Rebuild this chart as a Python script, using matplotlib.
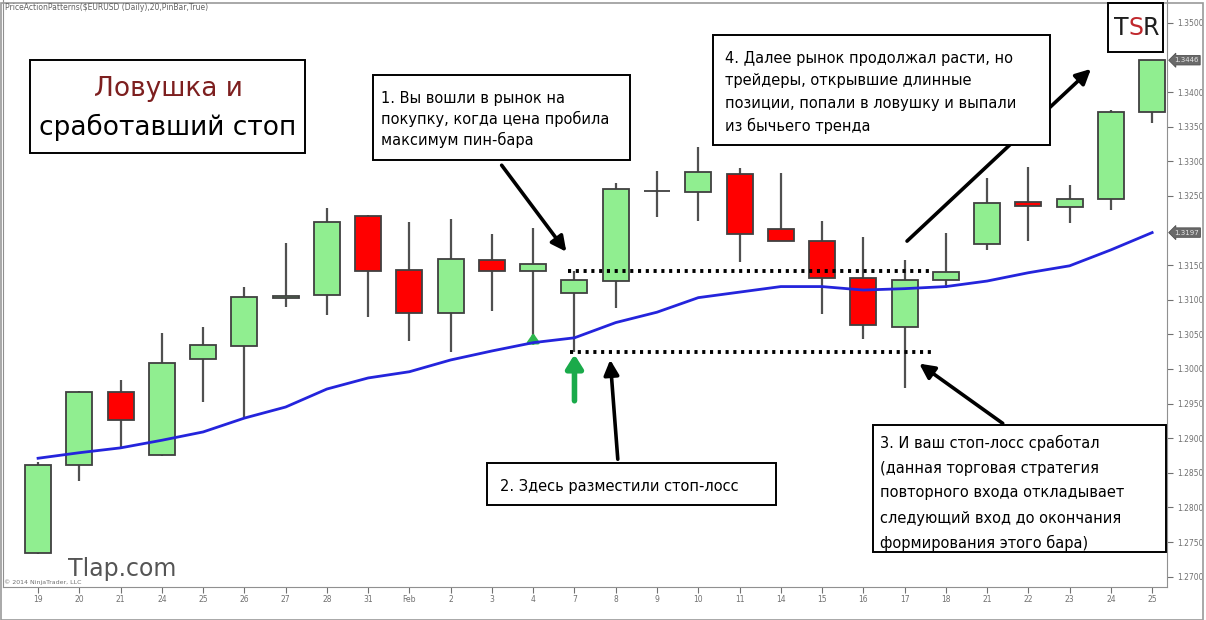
import matplotlib
matplotlib.use("Agg")
from matplotlib import pyplot as plt
from matplotlib.patches import Rectangle, FancyArrowPatch
import numpy as np

# dates (EUR/USD daily, Jan-Feb)
dates = ['19', '20', '21', '24', '25', '26', '27', '28', '31', 'Feb', '2', '3', '4', '7',
         '8', '9', '10', '11', '14', '15', '16', '17', '18', '21', '22', '23', '24', '25']

opens = [1.2734, 1.2861, 1.2967, 1.2876, 1.3014, 1.3033, 1.3103, 1.3107, 1.3221, 1.3143,
         1.3081, 1.3158, 1.3142, 1.3110, 1.3127, 1.3257, 1.3256, 1.3282, 1.3202, 1.3185,
         1.3132, 1.3061, 1.3129, 1.3181, 1.3241, 1.3234, 1.3246, 1.3371]
closes = [1.2861, 1.2967, 1.2926, 1.3009, 1.3035, 1.3104, 1.3106, 1.3212, 1.3142, 1.3081,
          1.3159, 1.3142, 1.3152, 1.3129, 1.3260, 1.3257, 1.3285, 1.3195, 1.3185, 1.3132,
          1.3064, 1.3129, 1.3140, 1.3240, 1.3236, 1.3246, 1.3371, 1.3446]
highs = [1.2866, 1.2968, 1.2984, 1.3052, 1.3061, 1.3119, 1.3182, 1.3233, 1.3223, 1.3212,
         1.3217, 1.3195, 1.3204, 1.3141, 1.3269, 1.3286, 1.3321, 1.3290, 1.3283, 1.3214,
         1.3191, 1.3158, 1.3197, 1.3276, 1.3292, 1.3266, 1.3374, 1.3446]
lows = [1.2733, 1.2838, 1.2886, 1.2874, 1.2952, 1.2929, 1.3090, 1.3078, 1.3075, 1.3040,
        1.3025, 1.3084, 1.3046, 1.3025, 1.3088, 1.3220, 1.3214, 1.3155, 1.3185, 1.3080,
        1.3043, 1.2973, 1.3117, 1.3172, 1.3185, 1.3211, 1.3230, 1.3356]
ma20 = [1.2871, 1.2879, 1.2886, 1.2897, 1.2909, 1.2929, 1.2945, 1.2971, 1.2987, 1.2996,
        1.3013, 1.3026, 1.3038, 1.3045, 1.3067, 1.3082, 1.3103, 1.3111, 1.3119, 1.3119,
        1.3114, 1.3116, 1.3119, 1.3127, 1.3139, 1.3149, 1.3172, 1.3197]

# price levels shown on the right axis (1.3450 and 1.3200 are covered by markers)
price_ticks = [1.2700, 1.2750, 1.2800, 1.2850, 1.2900, 1.2950, 1.3000, 1.3050, 1.3100,
               1.3150, 1.3250, 1.3300, 1.3350, 1.3400, 1.3500]
pin_bar = 13
stop_bar = 21

W, H = 1206, 620
fig = plt.figure(figsize=(W / 100, H / 100), dpi=100)
fig.patch.set_facecolor('white')


def fp(x, y):
    # pixel (from top-left) -> figure fraction
    return x / W, 1 - y / H


ax = fig.add_axes([3 / W, 33 / H, (1167 - 3) / W, (620 - 33) / H])
x = np.arange(len(dates))
o = np.array(opens)
c = np.array(closes)
up = c >= o
cols = np.where(up, '#90ee90', '#ff0000')

ax.vlines(x, lows, highs, color='#505050', lw=1.6, zorder=2)
ax.bar(x, np.abs(c - o), bottom=np.minimum(o, c), width=0.63, color=cols,
       edgecolor='#404040', lw=1.3, zorder=3)
ax.plot(x, ma20, color='#2424dc', lw=2, zorder=4)

# dotted levels: pin bar high / low
ax.plot([pin_bar - 0.15, stop_bar + 0.6], [highs[pin_bar]] * 2, color='black', lw=2.8,
        ls=(0, (0.8, 1.2)), zorder=5)
ax.plot([pin_bar - 0.1, stop_bar + 0.7], [lows[pin_bar]] * 2, color='black', lw=2.8,
        ls=(0, (0.8, 1.2)), zorder=5)

ax.set_xlim(-0.85, 27.36)
ax.set_ylim(1.2685, 1.3533)
ax.set_xticks(x)
ax.set_xticklabels(dates)
ax.set_yticks(price_ticks)
ax.set_yticklabels(['%.4f' % v for v in price_ticks])
ax.yaxis.tick_right()
ax.tick_params(axis='both', colors='#707070', labelsize=5.5, length=4, width=0.8, direction='out')
ax.tick_params(axis='x', pad=2)
ax.spines['top'].set_visible(False)
for s in ['left', 'right', 'bottom']:
    ax.spines[s].set_color('#909090')

# last price / MA markers on the price axis
for val in [closes[-1], ma20[-1]]:
    ax.annotate('%.4f' % val, xy=(1.0, val), xycoords=('axes fraction', 'data'),
                xytext=(5, 0), textcoords='offset points', va='center', ha='left',
                fontsize=5, color='#e6e6e6',
                bbox=dict(boxstyle='larrow,pad=0.25', fc='#6a6a6a', ec='#505050', lw=0.6))

# small pin-bar signal arrow and entry arrow
ax.annotate('', xy=(12, 1.3056), xytext=(12, 1.3033),
            arrowprops=dict(arrowstyle='-|>,head_width=0.35,head_length=0.5', color='#2db84d', lw=2.4))
ax.annotate('', xy=(pin_bar, lows[pin_bar]), xytext=(pin_bar, 1.2950),
            arrowprops=dict(arrowstyle='-|>,head_width=0.5,head_length=0.8', color='#1aaa4a', lw=4))

# figure frame
fig.add_artist(Rectangle((0.5 / W, 0.5 / H), (W - 4) / W, (H - 3) / H, transform=fig.transFigure,
                         fill=False, ec='#9a9a9a', lw=1.2))

fig.text(*fp(5, 8), 'PriceActionPatterns($EURUSD (Daily),20,PinBar,True)', fontsize=5.5,
         color='#606060', va='center', ha='left')
fig.text(*fp(4, 582), '\u00a9 2014 NinjaTrader, LLC', fontsize=4.5, color='#707070',
         va='center', ha='left')
fig.text(*fp(68, 569), 'Tlap.com', fontsize=17, color='#555555', va='center', ha='left')


def box(x0, y0, x1, y1):
    (fx0, fy1), (fx1, fy0) = fp(x0, y0), fp(x1, y1)
    fig.add_artist(Rectangle((fx0, fy0), fx1 - fx0, fy1 - fy0, transform=fig.transFigure,
                             fc='white', ec='black', lw=1.4, zorder=10))


def lines(x0, y0, step, txt, size=10.5):
    for i, t in enumerate(txt):
        fig.text(*fp(x0, y0 + i * step), t, fontsize=size, va='center', ha='left',
                 color='black', zorder=11)


box(30, 60, 305, 153)
fig.text(*fp(168, 89), 'Ловушка и', fontsize=19, color='#7d1f1f', ha='center', va='center', zorder=11)
fig.text(*fp(168, 127), 'сработавший стоп', fontsize=19, color='black', ha='center', va='center', zorder=11)

box(373, 75, 630, 160)
lines(381, 98, 21, ['1. Вы вошли в рынок на', 'покупку, когда цена пробила', 'максимум пин-бара'])

box(487, 463, 776, 505)
lines(500, 486, 0, ['2. Здесь разместили стоп-лосс'])

box(873, 425, 1166, 552)
lines(880, 443, 25, ['3. И ваш стоп-лосс сработал', '(данная торговая стратегия',
                     'повторного входа откладывает', 'следующий вход до окончания',
                     'формирования этого бара)'])

box(713, 35, 1050, 145)
lines(725, 58, 22.7, ['4. Далее рынок продолжал расти, но', 'трейдеры, открывшие длинные',
                      'позиции, попали в ловушку и выпали', 'из бычьего тренда'])

# TSR logo
box(1108, 3, 1163, 52)
for ch, dx, col in [('T', -15, '#1e1e1e'), ('S', 0, '#c0282d'), ('R', 15, '#1e1e1e')]:
    fig.text(*fp(1136 + dx, 28), ch, fontsize=17, color=col, ha='center', va='center',
             fontweight='medium', zorder=11)

# black pointer arrows
arrow_kw = dict(arrowstyle='-|>,head_width=0.45,head_length=0.9', color='black', lw=2.6)
for (xs, ys), (xe, ye) in [((500, 163), (568, 254)), ((618, 462), (610, 357)),
                          ((1005, 425), (917, 362)), ((905, 243), (1093, 67))]:
    fig.add_artist(FancyArrowPatch(fp(xs, ys), fp(xe, ye), transform=fig.transFigure,
                                   mutation_scale=10, zorder=9, **arrow_kw))

fig.savefig('out.png', dpi=100)
